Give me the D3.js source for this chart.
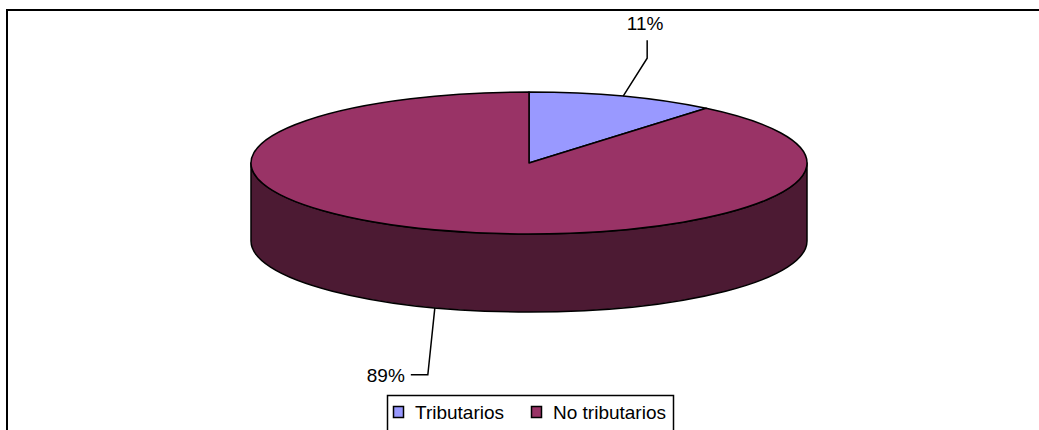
<!DOCTYPE html>
<html lang="es">
<head>
<meta charset="UTF-8">
<title>Tributarios</title>
<style>
  html, body { margin: 0; padding: 0; background: #fff; }
  #chart svg { display: block; font-family: Arial, "Liberation Sans", sans-serif; }
</style>
</head>
<body>
<div id="chart"></div>
<script src="https://cdn.jsdelivr.net/npm/d3@7"></script>
<script>
  // data
  const categories = ['Tributarios', 'No tributarios'];
  const values = [11, 89];
  const labels = ['11%', '89%'];
  const topColors = ['#9999ff', '#993366'];
  const sideColors = ['#4d4d80', '#4c1a33'];

  const W = 1039, H = 430;
  const cx = 529, cy = 163, rx = 278, ry = 71, depth = 78;

  const svg = d3.select('#chart').append('svg')
    .attr('width', W).attr('height', H);

  // outer frame (only left and top visible)
  svg.append('path')
    .attr('d', `M7,${H + 5} L7,10 L${W + 5},10`)
    .attr('fill', 'none').attr('stroke', '#000').attr('stroke-width', 2);

  const pie = d3.pie().sort(null).value(d => d)(values);

  const pt = (a, dy = 0) => [cx + rx * Math.sin(a), cy - ry * Math.cos(a) + dy];

  const g = svg.append('g');

  // side walls, only the front half is visible
  pie.forEach((d, i) => {
    const s = Math.max(d.startAngle, Math.PI / 2);
    const e = Math.min(d.endAngle, Math.PI * 3 / 2);
    if (s >= e) return;
    const p0 = pt(s), p1 = pt(e), q1 = pt(e, depth), q0 = pt(s, depth);
    const large = (e - s) > Math.PI ? 1 : 0;
    const path = `M${p0} A${rx},${ry} 0 ${large} 1 ${p1} L${q1} A${rx},${ry} 0 ${large} 0 ${q0} Z`;
    g.append('path').attr('d', path)
      .attr('fill', sideColors[i]).attr('stroke', '#000')
      .attr('stroke-width', 1.5).attr('stroke-linejoin', 'round');
  });

  // top faces
  pie.forEach((d, i) => {
    const p0 = pt(d.startAngle), p1 = pt(d.endAngle);
    const large = (d.endAngle - d.startAngle) > Math.PI ? 1 : 0;
    g.append('path')
      .attr('d', `M${cx},${cy} L${p0} A${rx},${ry} 0 ${large} 1 ${p1} Z`)
      .attr('fill', topColors[i]).attr('stroke', '#000')
      .attr('stroke-width', 1.5).attr('stroke-linejoin', 'round');
  });

  // leader lines and percentage labels
  const lab = svg.append('g').attr('font-size', 19).attr('fill', '#000');
  pie.forEach((d, i) => {
    const mid = (d.startAngle + d.endAngle) / 2;
    const front = Math.cos(mid) < 0;
    const a = pt(mid, front ? depth : 0);
    let pts, tx, ty, anchor;
    if (!front) {
      pts = [a, [a[0] + 24, a[1] - 38], [a[0] + 24, a[1] - 56]];
      tx = a[0] + 22; ty = a[1] - 66; anchor = 'middle';
    } else {
      pts = [a, [a[0] - 7, a[1] + 67], [a[0] - 24, a[1] + 67]];
      tx = a[0] - 30; ty = a[1] + 74; anchor = 'end';
    }
    lab.append('path').attr('d', d3.line()(pts))
      .attr('fill', 'none').attr('stroke', '#000').attr('stroke-width', 1.5);
    lab.append('text').attr('x', tx).attr('y', ty)
      .attr('text-anchor', anchor).text(labels[i]);
  });

  // legend
  const leg = svg.append('g');
  leg.append('rect').attr('x', 387.5).attr('y', 395.5)
    .attr('width', 286).attr('height', 50)
    .attr('fill', '#fff').attr('stroke', '#000').attr('stroke-width', 1.5);
  const legX = [393, 531];
  categories.forEach((c, i) => {
    leg.append('rect').attr('x', legX[i] + 0.5).attr('y', 406.5)
      .attr('width', 10).attr('height', 11)
      .attr('fill', topColors[i]).attr('stroke', '#000').attr('stroke-width', 1.5);
    leg.append('text').attr('x', legX[i] + 22).attr('y', 419)
      .attr('font-size', 19).text(c);
  });
</script>
</body>
</html>
